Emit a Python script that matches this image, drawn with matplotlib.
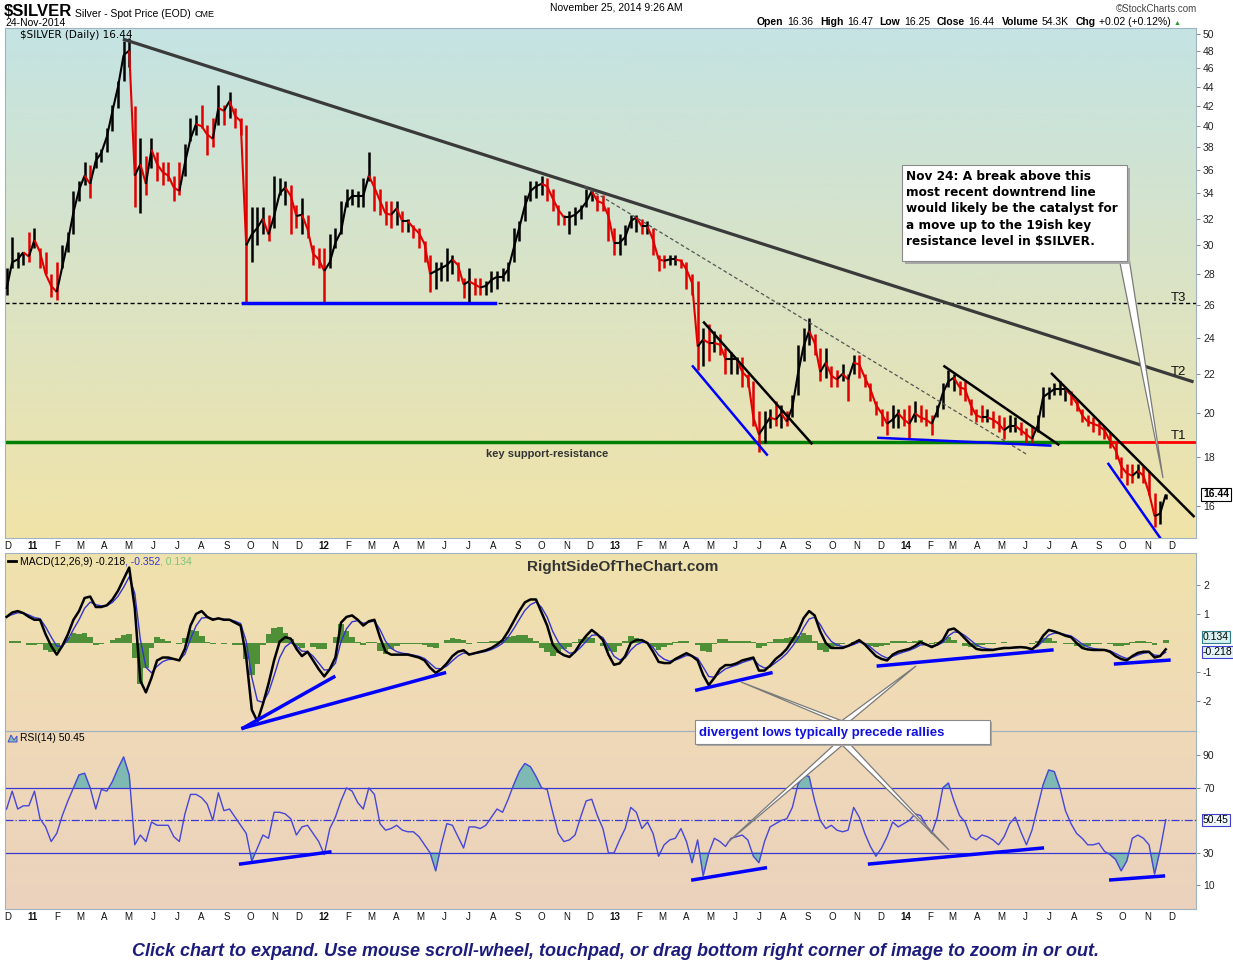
import numpy as np
import pandas as pd
import matplotlib
matplotlib.use('Agg')
import matplotlib.pyplot as plt
import matplotlib.dates as mdates
from matplotlib.collections import LineCollection
from matplotlib.patches import Polygon, Rectangle
from matplotlib.ticker import NullLocator

plt.rcParams['font.family'] = ['Liberation Sans', 'DejaVu Sans']

# weekly close / high / low of $SILVER (last week = 24-Nov-2014)
close = [27.0, 28.8, 29.0, 29.5, 29.2, 30.4, 29.5, 28.0, 27.2, 26.8,
         28.5, 30.3, 32.5, 34.3, 35.5, 34.8, 36.8, 37.5, 39.0, 41.5,
         44.0, 47.5, 48.0, 35.5, 36.5, 34.8, 37.8, 36.5, 35.8, 35.5,
         34.5, 34.2, 36.6, 38.8, 40.2, 40.0, 39.2, 38.8, 41.8, 41.5,
         42.5, 41.0, 40.5, 30.0, 30.8, 31.3, 32.0, 30.8, 32.2, 34.0,
         34.5, 33.8, 32.2, 32.3, 31.2, 29.4, 29.0, 28.2, 28.8, 30.2,
         31.0, 33.3, 33.8, 33.8, 33.8, 35.5, 34.5, 33.4, 32.4, 32.3,
         32.8, 31.8, 31.8, 31.3, 30.9, 30.1, 28.0, 28.2, 28.4, 28.6,
         29.0, 28.6, 27.3, 27.5, 27.3, 27.1, 27.2, 27.6, 27.8, 27.8,
         28.3, 29.8, 31.3, 33.0, 34.2, 34.6, 34.8, 34.6, 33.6, 32.7,
         32.1, 32.1, 32.3, 32.7, 33.3, 34.2, 33.4, 33.2, 32.2, 30.2,
         30.2, 30.6, 31.8, 32.1, 31.4, 31.4, 30.4, 29.0, 28.9, 29.0,
         29.0, 28.9, 28.3, 27.4, 23.5, 23.9, 23.7, 23.7, 23.6, 22.8,
         22.8, 22.8, 22.1, 21.8, 19.8, 19.0, 19.4, 19.8, 19.7, 20.0,
         19.6, 20.3, 22.0, 23.5, 24.4, 23.7, 22.1, 22.6, 21.9, 21.7,
         22.0, 21.7, 22.6, 22.5, 21.8, 21.2, 20.4, 20.0, 19.5, 19.7,
         20.0, 19.7, 19.5, 20.0, 19.8, 19.7, 19.5, 20.1, 21.0, 21.6,
         21.8, 21.3, 21.2, 20.4, 19.9, 19.8, 19.8, 19.7, 19.5, 19.2,
         19.4, 19.4, 19.2, 19.0, 18.8, 19.4, 20.8, 21.0, 21.2, 21.2,
         21.2, 20.9, 20.5, 19.9, 19.6, 19.5, 19.4, 19.2, 18.7, 18.3,
         17.6, 17.3, 17.2, 17.4, 17.2, 16.5, 15.6, 15.7, 16.44]

high = [28.4, 30.6, 29.5, 29.5, 31.0, 31.3, 29.8, 29.5, 28.0, 28.8,
        30.0, 31.0, 34.2, 35.0, 36.7, 36.4, 37.6, 37.9, 39.8, 42.1,
        44.6, 49.1, 49.5, 42.0, 38.9, 37.2, 38.9, 37.6, 36.7, 36.7,
        35.5, 36.7, 38.3, 40.8, 41.1, 42.1, 40.1, 40.8, 44.2, 42.1,
        43.4, 41.8, 40.8, 40.1, 32.9, 32.9, 32.9, 32.3, 35.5, 35.3,
        35.0, 34.7, 33.1, 33.6, 32.3, 30.0, 29.8, 29.8, 30.8, 31.3,
        33.4, 34.4, 34.4, 34.2, 35.3, 37.6, 35.5, 34.4, 33.4, 33.4,
        33.4, 32.6, 32.0, 31.5, 31.3, 30.3, 29.3, 28.8, 28.8, 29.8,
        29.3, 28.8, 27.7, 28.4, 27.7, 27.7, 27.5, 28.2, 28.2, 28.4,
        28.8, 31.3, 31.8, 33.9, 35.0, 35.0, 35.5, 35.3, 34.4, 33.1,
        32.3, 32.6, 32.9, 33.1, 34.4, 34.4, 33.9, 33.9, 32.9, 31.3,
        30.8, 31.5, 32.3, 32.3, 32.0, 31.8, 31.3, 29.3, 29.3, 29.3,
        29.3, 29.0, 28.8, 28.0, 27.5, 24.6, 24.8, 24.4, 24.2, 23.4,
        23.2, 22.9, 22.9, 22.0, 21.6, 20.1, 20.1, 20.2, 20.6, 20.4,
        20.1, 20.9, 23.6, 24.6, 25.2, 24.2, 23.4, 23.4, 22.4, 22.2,
        22.5, 22.0, 23.0, 23.0, 22.0, 21.5, 20.6, 20.2, 20.1, 20.4,
        20.2, 20.2, 20.4, 20.6, 20.4, 20.2, 19.9, 20.4, 21.5, 22.2,
        22.0, 21.6, 21.6, 20.7, 20.2, 20.4, 20.2, 20.1, 19.9, 19.8,
        19.9, 19.8, 19.6, 19.3, 19.4, 19.9, 21.3, 21.3, 21.5, 21.6,
        21.3, 21.1, 20.7, 20.2, 19.9, 19.8, 19.6, 19.4, 19.1, 18.6,
        18.0, 17.7, 17.7, 17.7, 17.6, 17.4, 16.5, 16.2, 16.47]

low = [26.6, 28.4, 28.4, 28.6, 28.8, 29.8, 28.4, 28.0, 26.5, 26.3,
       28.4, 29.5, 30.8, 33.4, 34.7, 33.6, 36.2, 36.7, 37.6, 39.5,
       41.8, 44.6, 46.1, 32.9, 32.4, 33.9, 36.2, 35.0, 34.7, 35.0,
       33.4, 33.9, 35.5, 38.6, 39.2, 39.8, 37.3, 38.0, 40.1, 40.1,
       40.8, 39.8, 39.2, 26.1, 28.8, 30.0, 30.8, 30.3, 31.3, 33.9,
       33.1, 30.8, 31.3, 30.8, 30.5, 28.6, 28.4, 26.1, 28.4, 29.8,
       30.8, 32.9, 33.1, 32.9, 32.9, 35.0, 32.6, 32.3, 31.5, 31.3,
       31.5, 31.0, 31.0, 30.5, 29.8, 28.8, 26.8, 27.0, 27.5, 27.5,
       28.0, 27.5, 26.4, 26.1, 26.6, 26.6, 26.6, 26.8, 27.0, 27.5,
       27.5, 28.8, 30.3, 31.8, 33.4, 33.6, 33.9, 33.4, 32.6, 31.5,
       31.5, 30.8, 31.5, 32.0, 32.9, 33.4, 32.6, 32.6, 30.3, 29.3,
       29.3, 30.0, 31.3, 31.0, 30.8, 30.8, 29.3, 28.2, 28.4, 28.6,
       28.6, 28.4, 27.0, 26.6, 22.2, 22.4, 22.7, 23.2, 23.0, 22.0,
       22.0, 22.0, 21.3, 21.3, 19.4, 18.2, 18.6, 19.3, 19.4, 19.3,
       19.4, 19.8, 20.9, 22.7, 23.6, 23.0, 21.6, 21.8, 21.3, 21.3,
       21.6, 20.6, 22.0, 21.8, 21.3, 20.6, 19.9, 19.4, 19.0, 19.3,
       19.3, 19.4, 18.8, 19.6, 19.6, 19.4, 19.0, 19.8, 20.2, 21.3,
       21.1, 20.9, 20.6, 19.9, 19.6, 19.6, 19.6, 19.3, 19.1, 18.8,
       19.1, 19.1, 19.0, 18.6, 18.6, 19.1, 19.8, 20.7, 20.9, 20.9,
       20.6, 20.4, 20.1, 19.6, 19.4, 19.1, 19.0, 18.8, 18.4, 17.9,
       17.1, 16.8, 16.9, 17.1, 16.9, 16.4, 15.2, 15.3, 16.25]

macd = [0.9, 1.05, 1.1, 1.03, 0.9, 0.8, 0.8, 0.3, -0.1, -0.4,
        -0.1, 0.3, 0.8, 1.1, 1.55, 1.6, 1.24, 1.24, 1.3, 1.5,
        1.8, 2.2, 2.6, 1.2, -1.3, -1.7, -1.2, -0.6, -0.5, -0.5,
        -0.55, -0.6, -0.2, 0.6, 1.0, 1.1, 0.9, 0.8, 0.85, 0.8,
        0.8, 0.7, 0.6, -0.5, -2.3, -2.7, -2.1, -1.4, -0.6, 0.05,
        0.2, 0.15, -0.2, -0.45, -0.3, -0.6, -0.9, -1.15, -0.9, -0.5,
        0.7, 0.9, 0.95, 0.8, 0.6, 0.75, 0.8, 0.2, -0.3, -0.4,
        -0.4, -0.4, -0.4, -0.45, -0.5, -0.6, -0.85, -1.03, -0.9, -0.7,
        -0.45, -0.3, -0.25, -0.4, -0.35, -0.3, -0.25, -0.17, -0.05, 0.1,
        0.4, 0.75, 1.1, 1.4, 1.5, 1.5, 1.05, 0.6, -0.05, -0.3,
        -0.42, -0.48, -0.3, 0.0, 0.25, 0.45, 0.3, 0.1, -0.4, -0.75,
        -0.7, -0.45, 0.0, 0.1, 0.1, 0.0, -0.3, -0.65, -0.69, -0.69,
        -0.55, -0.45, -0.35, -0.45, -0.6, -1.1, -1.45, -1.2, -0.9, -0.76,
        -0.76, -0.7, -0.6, -0.55, -0.5, -0.95, -0.95, -0.78, -0.55, -0.4,
        -0.2, 0.1, 0.4, 0.85, 1.1, 0.95, 0.4, 0.0, -0.17, -0.17,
        -0.17, -0.1, 0.0, 0.1, -0.05, -0.25, -0.45, -0.55, -0.6, -0.4,
        -0.3, -0.25, -0.2, -0.1, 0.03, -0.05, -0.14, -0.05, 0.1, 0.45,
        0.5, 0.35, 0.15, -0.05, -0.2, -0.24, -0.24, -0.24, -0.2, -0.17,
        -0.17, -0.15, -0.14, -0.16, -0.22, -0.05, 0.25, 0.45, 0.4, 0.33,
        0.25, 0.2, 0.0, -0.17, -0.22, -0.24, -0.24, -0.24, -0.3, -0.45,
        -0.55, -0.6, -0.45, -0.34, -0.3, -0.3, -0.5, -0.45, -0.218]

rsi = [57, 68, 57, 59, 59, 68, 51, 46, 37, 42,
       53, 62, 70, 78, 79, 70, 57, 69, 68, 74,
       82, 89, 78, 35, 41, 37, 49, 47, 47, 47,
       40, 37, 54, 66, 66, 64, 60, 50, 67, 56,
       57, 52, 47, 42, 25, 33, 41, 39, 55, 55,
       54, 51, 41, 46, 47, 42, 37, 29, 45, 52,
       62, 70, 68, 61, 57, 70, 66, 48, 44, 45,
       47, 44, 43, 43, 40, 35, 30, 19, 35, 48,
       47, 40, 33, 46, 46, 45, 47, 52, 57, 55,
       63, 72, 80, 85, 83, 77, 70, 69, 55, 42,
       37, 38, 41, 52, 62, 63, 53, 45, 30, 30,
       38, 45, 58, 55, 45, 49, 42, 28, 35, 38,
       39, 45, 37, 24, 38, 16, 30, 39, 37, 34,
       39, 40, 41, 38, 28, 24, 37, 46, 48, 50,
       51, 58, 72, 78, 77, 62, 50, 45, 47, 44,
       43, 44, 58, 52, 42, 34, 28, 33, 40, 49,
       46, 48, 50, 54, 53, 47, 42, 52, 70, 73,
       62, 53, 49, 40, 38, 41, 40, 38, 35, 40,
       48, 52, 43, 35, 44, 58, 72, 81, 80, 70,
       56, 48, 42, 39, 35, 35, 36, 31, 29, 26,
       19, 25, 39, 41, 39, 35, 17, 32, 50.45]

price_ticks = [16, 18, 20, 22, 24, 26, 28, 30, 32, 34, 36, 38, 40, 42, 44, 46, 48, 50]
macd_ticks = [-2, -1, 1, 2]
rsi_ticks = [10, 30, 70, 90]

# hand drawn lines on the chart: (date, value) pairs
long_trend = [('2011-04-26', 49.3), ('2014-12-27', 21.6)]
dashed_trend = [('2012-11-24', 34.6), ('2014-06-03', 18.1)]
t3_level = 26.1
t1_level = 18.65
support_2012 = [('2011-09-22', 26.1), ('2012-08-03', 26.1)]
red_start = '2014-09-19'
price_black = [[('2013-04-23', 24.9), ('2013-09-05', 18.6)],
               [('2014-02-19', 22.4), ('2014-07-12', 18.55)],
               [('2014-07-04', 22.0), ('2014-12-29', 15.6)]]
price_blue = [[('2013-04-09', 22.4), ('2013-07-11', 18.1)],
              [('2013-11-28', 18.85), ('2014-07-02', 18.5)],
              [('2014-09-13', 17.7), ('2014-11-22', 14.6)]]
macd_blue = [[('2011-09-22', -2.93), ('2012-01-14', -1.17)],
             [('2011-09-22', -2.93), ('2012-06-01', -1.03)],
             [('2013-04-14', -1.62), ('2013-07-16', -1.03)],
             [('2013-11-28', -0.79), ('2014-07-04', -0.24)],
             [('2014-09-22', -0.72), ('2014-11-28', -0.59)]]
rsi_blue = [[('2011-09-19', 23.2), ('2012-01-09', 30.6)],
            [('2013-04-09', 13.4), ('2013-07-09', 20.8)],
            [('2013-11-17', 23.2), ('2014-06-22', 33.0)],
            [('2014-09-16', 13.4), ('2014-11-21', 15.8)]]

W, H = 1233, 974
fig = plt.figure(figsize=(W / 100, H / 100), dpi=100)
frame_col = '#9fb3c2'


def rect(x0, y0, x1, y1):
    return [x0 / W, 1 - y1 / H, (x1 - x0) / W, (y1 - y0) / H]


def panel(r, top, bottom):
    bg = fig.add_axes(r, zorder=0)
    c0 = np.array(matplotlib.colors.to_rgb(top))
    c1 = np.array(matplotlib.colors.to_rgb(bottom))
    t = np.linspace(0, 1, 256)[:, None]
    bg.imshow((c0 * (1 - t) + c1 * t)[:, None, :], aspect='auto', extent=[0, 1, 0, 1])
    bg.axis('off')
    ax = fig.add_axes(r, zorder=1)
    ax.patch.set_alpha(0)
    for s in ax.spines.values():
        s.set_color(frame_col)
    ax.yaxis.tick_right()
    ax.tick_params(axis='y', direction='out', length=3, width=0.6, color='#777777',
                   labelsize=7.5, pad=2, labelcolor='#222222')
    return ax


def dn(s):
    return mdates.date2num(pd.Timestamp(s))


def seg(ax, pts, **kw):
    ax.plot([dn(p[0]) for p in pts], [p[1] for p in pts], **kw)


dates = pd.date_range(end='2014-11-24', periods=len(close), freq='7D')
d = mdates.date2num(dates)
x0, x1 = dn('2010-11-27'), dn('2015-01-01')

months = pd.date_range('2010-12-01', '2014-12-01', freq='MS')
month_lbl = [('%02d' % (m.year % 100)) if m.month == 1 else 'JFMAMJJASOND'[m.month - 1] for m in months]


def month_axis(ax, show):
    ax.set_xlim(x0, x1)
    ax.set_xticks(mdates.date2num(months))
    if show:
        ax.set_xticklabels(month_lbl)
        for lab, m in zip(ax.get_xticklabels(), months):
            if m.month == 1:
                lab.set_fontweight('bold')
                lab.set_fontsize(8)
    else:
        ax.set_xticklabels([])
    ax.tick_params(axis='x', length=0, labelsize=7, pad=2, labelcolor='#111111')


# ---- price panel
ax = panel(rect(5, 28, 1196, 538), '#c4e3e3', '#f1e3a8')
c = np.array(close)
up = np.concatenate([[True], np.diff(c) >= 0])
cols = np.where(up, '#000000', '#e00000')
ax.vlines(d, low, high, colors=cols, linewidth=1.8, zorder=3)
segs = np.stack([np.column_stack([d[:-1], c[:-1]]), np.column_stack([d[1:], c[1:]])], axis=1)
ax.add_collection(LineCollection(segs, colors=cols[1:], linewidths=1.5, zorder=3))
ax.set_yscale('log')
ax.set_ylim(14.8, 50.7)
ax.set_yticks(price_ticks)
ax.set_yticklabels([str(v) for v in price_ticks])
ax.yaxis.set_minor_locator(NullLocator())
month_axis(ax, True)

ax.axhline(t3_level, color='black', lw=1, ls=(0, (3, 2)), zorder=2)
seg(ax, support_2012, color='#0000ff', lw=2.5, zorder=4)
ax.plot([x0, dn(red_start)], [t1_level, t1_level], color='#008000', lw=2.5, zorder=2)
ax.plot([dn(red_start), x1], [t1_level, t1_level], color='#ff0000', lw=2, zorder=2)
seg(ax, long_trend, color='#3a3a3a', lw=2.3, zorder=4)
seg(ax, dashed_trend, color='#555555', lw=0.9, ls=(0, (3, 2)), zorder=4)
for pts in price_black:
    seg(ax, pts, color='black', lw=1.8, zorder=4)
for pts in price_blue:
    seg(ax, pts, color='#0000ff', lw=1.8, zorder=4)
ax.annotate('16.44', xy=(1, close[-1]), xycoords=('axes fraction', 'data'),
            xytext=(5, 0), textcoords='offset points', va='center', ha='left',
            fontsize=7.5, fontweight='bold',
            bbox=dict(boxstyle='square,pad=0.15', fc='white', ec='black', lw=0.8),
            annotation_clip=False)

# ---- MACD panel
ax2 = panel(rect(5, 553, 1196, 731), '#f0e2ac', '#efd9b8')
m = pd.Series(macd)
signal = m.ewm(span=2.8, adjust=False).mean()
hist = m - signal
ax2.bar(d, hist, width=7.2, color='#4f8f37', zorder=2)
ax2.plot(d, signal, color='#3434d0', lw=1, zorder=3)
ax2.plot(d, macd, color='black', lw=1.8, zorder=4)
for pts in macd_blue:
    seg(ax2, pts, color='#0000ff', lw=2.5, zorder=5)
ax2.set_ylim(-3.03, 3.1)
ax2.set_yticks(macd_ticks)
ax2.set_yticklabels([str(v) for v in macd_ticks])
month_axis(ax2, False)
ax2.annotate('0.134', xy=(1, 0.2), xycoords=('axes fraction', 'data'),
             xytext=(5, 0), textcoords='offset points', va='center', fontsize=7.5,
             bbox=dict(boxstyle='square,pad=0.1', fc='#d8f2f2', ec='#2f7f8f', lw=0.8),
             annotation_clip=False)
ax2.annotate('-0.218', xy=(1, -0.218), xycoords=('axes fraction', 'data'),
             xytext=(5, -2), textcoords='offset points', va='center', fontsize=7.5,
             bbox=dict(boxstyle='square,pad=0.1', fc='#e4f4f8', ec='#4040d0', lw=0.8),
             annotation_clip=False)

# ---- RSI panel
ax3 = panel(rect(5, 731, 1196, 909), '#efd9b8', '#ebd2bd')
r = np.array(rsi, dtype=float)
ax3.fill_between(d, r, 70, where=r > 70, interpolate=True, color='#7fb9b3', zorder=2)
ax3.fill_between(d, r, 30, where=r < 30, interpolate=True, color='#7fb9b3', zorder=2)
ax3.axhline(70, color='#3a3ad0', lw=0.9, zorder=2)
ax3.axhline(30, color='#3a3ad0', lw=0.9, zorder=2)
ax3.axhline(50, color='#3a3ad0', lw=0.9, ls='-.', zorder=2)
ax3.plot(d, r, color='#4646d8', lw=1, zorder=3)
for pts in rsi_blue:
    seg(ax3, pts, color='#0000ff', lw=2.5, zorder=5)
ax3.set_ylim(-4.5, 105)
ax3.set_yticks(rsi_ticks)
ax3.set_yticklabels([str(v) for v in rsi_ticks])
month_axis(ax3, True)
ax3.annotate('50.45', xy=(1, 50.45), xycoords=('axes fraction', 'data'),
             xytext=(5, 0), textcoords='offset points', va='center', fontsize=7.5,
             bbox=dict(boxstyle='square,pad=0.1', fc='#eef6f8', ec='#4040d0', lw=0.8),
             annotation_clip=False)

# ---- overlay for titles, notes and call-outs (pixel coordinates)
ov = fig.add_axes([0, 0, 1, 1], zorder=10)
ov.set_xlim(0, W)
ov.set_ylim(H, 0)
ov.axis('off')
ov.patch.set_alpha(0)


def chain(x, y, parts, va='bottom'):
    prev = None
    for txt, size, weight, col, gap in parts:
        if prev is None:
            prev = ov.text(x, y, txt, fontsize=size, fontweight=weight, color=col, va=va)
        else:
            prev = ov.annotate(txt, xy=(1, 0), xycoords=prev, xytext=(gap, 0),
                               textcoords='offset points', fontsize=size,
                               fontweight=weight, color=col, va='bottom')
    return prev


chain(4, 16, [('$SILVER', 12, 'bold', 'black', 0),
              ('Silver - Spot Price (EOD)', 7.5, 'normal', 'black', 2),
              ('CME', 6.5, 'normal', 'black', 3)], va='baseline')
ov.text(5, 23, '24-Nov-2014', fontsize=7.5, va='center')
ov.text(616, 7, 'November 25, 2014 9:26 AM', fontsize=7.5, ha='center', va='center')
ov.text(1197, 9, '\u00a9StockCharts.com', fontsize=7, ha='right', va='center', color='#444444')
chain(757, 27, [('Open', 7.5, 'bold', 'black', 0), ('16.36', 7.5, 'normal', 'black', 2.5),
                ('High', 7.5, 'bold', 'black', 5), ('16.47', 7.5, 'normal', 'black', 2.5),
                ('Low', 7.5, 'bold', 'black', 5), ('16.25', 7.5, 'normal', 'black', 2.5),
                ('Close', 7.5, 'bold', 'black', 5), ('16.44', 7.5, 'normal', 'black', 2.5),
                ('Volume', 7.5, 'bold', 'black', 5), ('54.3K', 7.5, 'normal', 'black', 2.5),
                ('Chg', 7.5, 'bold', 'black', 5), ('+0.02 (+0.12%)', 7.5, 'normal', 'black', 2.5),
                ('\u25b2', 5, 'normal', '#2a9a2a', 2)])

ov.text(20, 35, '$SILVER (Daily) 16.44', fontsize=7.5, va='center', family='DejaVu Sans')
ov.plot([8, 16], [561, 561], color='black', lw=2)
chain(20, 567, [('MACD(12,26,9) -0.218', 7.5, 'normal', 'black', 0),
                (', -0.352', 7.5, 'normal', '#3434d0', 0),
                (', 0.134', 7.5, 'normal', '#7cc47c', 0)])
ov.add_patch(Polygon([(8, 742), (11, 735), (14, 740), (17, 736), (17, 742)],
                     closed=True, fc='#7fb9b3', ec='#3a3ad0', lw=0.6))
ov.text(20, 738, 'RSI(14) 50.45', fontsize=7.5, va='center')

ov.text(623, 567, 'RightSideOfTheChart.com', fontsize=11, fontweight='bold',
        color='#333333', ha='center', va='center')
ov.text(547, 454, 'key support-resistance', fontsize=8, fontweight='bold',
        color='#333333', ha='center', va='center')
for lab, yy in [('T3', 298), ('T2', 372), ('T1', 436)]:
    ov.text(1171, yy, lab, fontsize=9.5, color='#111111', va='center')

# Nov 24 note
ov.add_patch(Polygon([(1119, 258), (1129, 258), (1163, 478)], closed=True,
                     fc='white', ec='#7a7a7a', lw=0.9, zorder=2))
ov.add_patch(Rectangle((905, 168), 225, 96, fc='#a8a8a8', ec='none', zorder=3))
ov.add_patch(Rectangle((902, 165), 225, 96, fc='white', ec='#8a8a8a', lw=0.8, zorder=4))
ov.text(906, 170, 'Nov 24: A break above this\nmost recent downtrend line\n'
        'would likely be the catalyst for\na move up to the 19ish key\n'
        'resistance level in $SILVER.', fontsize=8.7, fontweight='bold',
        family='DejaVu Sans', va='top', ha='left', linespacing=1.32, zorder=5)

# divergence note
for a, b in [((836, 722), (741, 682)), ((840, 722), (916, 666)),
             ((836, 743), (727, 843)), ((840, 743), (949, 850))]:
    ov.add_patch(Polygon([a, (a[0] + 9, a[1]), b], closed=True,
                         fc='white', ec='#7a7a7a', lw=0.9, zorder=2))
ov.add_patch(Rectangle((697, 722), 295, 24, fc='#a8a8a8', ec='none', zorder=3))
ov.add_patch(Rectangle((695, 720), 295, 24, fc='white', ec='#8a8a8a', lw=0.8, zorder=4))
ov.text(699, 733, 'divergent lows typically precede rallies', fontsize=9.5,
        fontweight='bold', color='#1010e0', va='center', zorder=5)

ov.text(616, 951, 'Click chart to expand. Use mouse scroll-wheel, touchpad, or drag bottom '
        'right corner of image to zoom in or out.', fontsize=13, fontweight='bold',
        fontstyle='italic', color='#1c1c7c', ha='center', va='center',
        family=['Liberation Sans Narrow', 'Liberation Sans'])

fig.savefig('out.png', dpi=100)
